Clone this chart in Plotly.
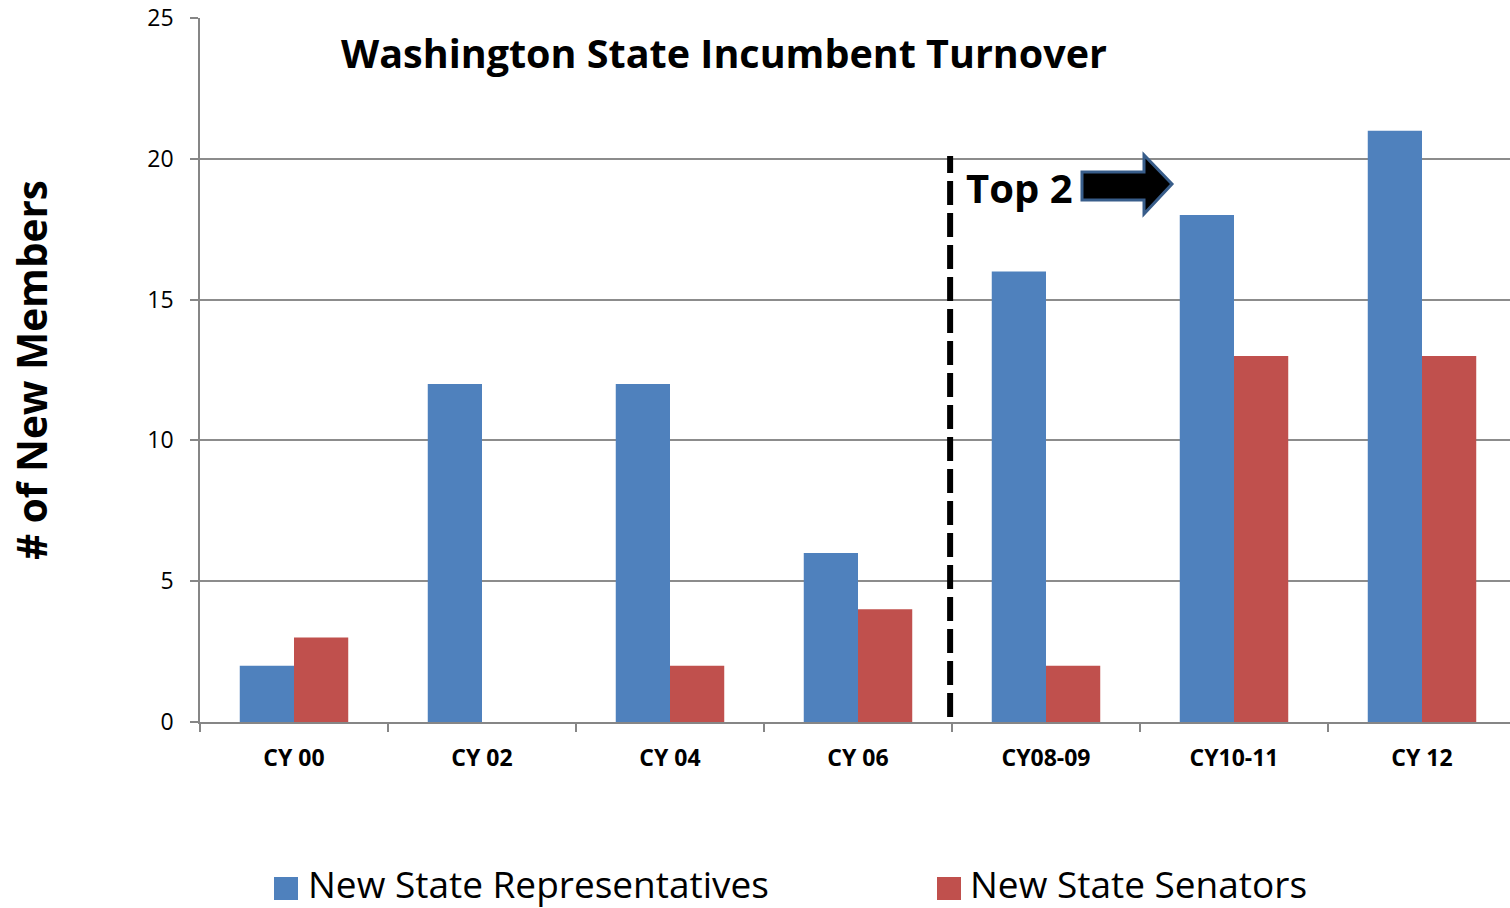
import plotly.graph_objects as go

categories = ["CY 00", "CY 02", "CY 04", "CY 06", "CY08-09", "CY10-11", "CY 12"]
representatives = [2, 12, 12, 6, 16, 18, 21]
senators = [3, 0, 2, 4, 2, 13, 13]
series_names = ["New State Representatives", "New State Senators"]
series_colors = ["#4F81BD", "#C0504D"]
y_ticks = [0, 5, 10, 15, 20, 25]

# plot area runs slightly past the right window edge, as in the reference
W, H = 1516, 908
L, R, T, B = 200, 0, 18, 186
PW, PH = W - L - R, H - T - B

def px(x):
    return (x - L) / PW

def py(y):
    return (H - B - y) / PH

FONT = "Open Sans"

fig = go.Figure()
fig.add_trace(go.Bar(x=categories, y=representatives, name=series_names[0],
                     marker=dict(color=series_colors[0], line=dict(width=0))))
fig.add_trace(go.Bar(x=categories, y=senators, name=series_names[1],
                     marker=dict(color=series_colors[1], line=dict(width=0))))

shapes = []
# dashed divider between CY 06 and CY08-09
shapes.append(dict(type="line", xref="x", yref="y", x0=3.49, x1=3.49, y0=0.18, y1=20.1,
                   line=dict(color="black", width=6, dash="24px,8px")))
# block arrow
pts = [(1082, 172), (1144, 172), (1144, 155), (1172, 184), (1144, 214), (1144, 200), (1082, 200)]
path = "M " + " L ".join(f"{px(a):.5f},{py(b):.5f}" for a, b in pts) + " Z"
shapes.append(dict(type="path", xref="paper", yref="paper", path=path,
                   fillcolor="black", line=dict(color="#385D8A", width=3)))
# legend squares
for x0, c in [(274, series_colors[0]), (937, series_colors[1])]:
    shapes.append(dict(type="rect", xref="paper", yref="paper",
                       x0=px(x0), x1=px(x0 + 24), y0=py(900), y1=py(877),
                       fillcolor=c, line=dict(width=0)))

annotations = [
    dict(text="<b>Washington State Incumbent Turnover</b>", xref="paper", yref="paper",
         x=px(724), y=py(53), showarrow=False, xanchor="center", yanchor="middle",
         font=dict(family=FONT, size=39.5, color="black")),
    dict(text="<b>Top 2</b>", xref="paper", yref="paper",
         x=px(964), y=py(187), showarrow=False, xanchor="left", yanchor="middle",
         font=dict(family=FONT, size=40, color="black")),
    dict(text="<b># of New Members</b>", xref="paper", yref="paper",
         x=px(31), y=py(370), showarrow=False, xanchor="center", yanchor="middle",
         textangle=-90, font=dict(family=FONT, size=40.5, color="black")),
    dict(text=series_names[0], xref="paper", yref="paper",
         x=px(306), y=py(883), showarrow=False, xanchor="left", yanchor="middle",
         font=dict(family=FONT, size=37, color="black")),
    dict(text=series_names[1], xref="paper", yref="paper",
         x=px(968), y=py(883), showarrow=False, xanchor="left", yanchor="middle",
         font=dict(family=FONT, size=37, color="black")),
]

fig.update_layout(
    width=W, height=H,
    margin=dict(l=L, r=R, t=T, b=B, pad=0),
    paper_bgcolor="white", plot_bgcolor="white",
    barmode="group", bargap=0.423, bargroupgap=0,
    showlegend=False,
    shapes=shapes, annotations=annotations,
    font=dict(family=FONT, color="black"),
)
fig.update_xaxes(
    type="category", range=[-0.5, 6.5], tickson="boundaries",
    ticks="outside", ticklen=8, tickwidth=1.5, tickcolor="#868686",
    showline=True, linecolor="#868686", linewidth=1.5, showgrid=False,
    tickfont=dict(family=FONT, size=23, color="black"),
    tickprefix="<b>", ticksuffix="</b>", ticklabelstandoff=15,
)
fig.update_yaxes(
    range=[0, 25], tickvals=y_ticks, ticks="outside", ticklen=8, tickwidth=1.5,
    tickcolor="#868686", showline=True, linecolor="#868686", linewidth=1.5,
    showgrid=True, gridcolor="#8C8C8C", gridwidth=1.5, zeroline=False,
    tickfont=dict(family=FONT, size=23, color="black"), ticklabelstandoff=12,
)

fig.write_html(
    "out.html",
    config={"displayModeBar": False},
    post_script="document.body.style.margin='0';document.body.style.overflow='hidden';",
)
